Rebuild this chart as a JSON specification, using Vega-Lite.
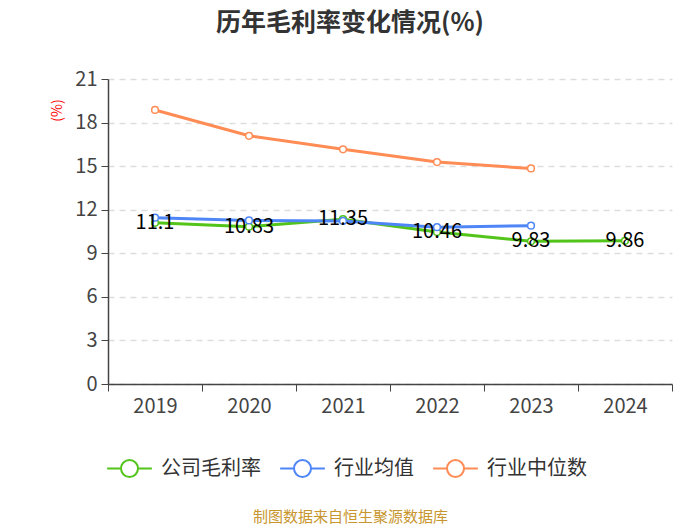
{
  "$schema": "https://vega.github.io/schema/vega-lite/v6.json",
  "width": 564,
  "height": 305,
  "autosize": {"type": "none"},
  "padding": {"left": 108, "top": 79, "right": 28, "bottom": 141},
  "background": "white",
  "title": {
    "text": "历年毛利率变化情况(%)",
    "fontSize": 25,
    "fontWeight": "bold",
    "color": "#333333",
    "font": "Noto Sans CJK SC",
    "anchor": "middle",
    "dx": -40,
    "offset": 33
  },
  "data": {
    "values": [
      {"year": "2019", "series": "公司毛利率", "value": 11.1},
      {"year": "2020", "series": "公司毛利率", "value": 10.83},
      {"year": "2021", "series": "公司毛利率", "value": 11.35},
      {"year": "2022", "series": "公司毛利率", "value": 10.46},
      {"year": "2023", "series": "公司毛利率", "value": 9.83},
      {"year": "2024", "series": "公司毛利率", "value": 9.86},
      {"year": "2019", "series": "行业均值", "value": 11.45},
      {"year": "2020", "series": "行业均值", "value": 11.26},
      {"year": "2021", "series": "行业均值", "value": 11.23},
      {"year": "2022", "series": "行业均值", "value": 10.8},
      {"year": "2023", "series": "行业均值", "value": 10.9},
      {"year": "2019", "series": "行业中位数", "value": 18.87},
      {"year": "2020", "series": "行业中位数", "value": 17.09},
      {"year": "2021", "series": "行业中位数", "value": 16.16},
      {"year": "2022", "series": "行业中位数", "value": 15.28},
      {"year": "2023", "series": "行业中位数", "value": 14.84}
    ]
  },
  "encoding": {
    "x": {
      "field": "year",
      "type": "ordinal",
      "scale": {"type": "band", "paddingInner": 0, "paddingOuter": 0},
      "axis": {
        "title": "制图数据来自恒生聚源数据库",
        "titleColor": "#C8962E",
        "titleFontSize": 15,
        "titleFontWeight": "normal",
        "titleFont": "Noto Sans CJK SC",
        "titleX": 242,
        "titleY": 132,
        "titleAlign": "center",
        "titleBaseline": "middle",
        "labelAngle": 0,
        "labelFontSize": 20,
        "labelColor": "#444444",
        "labelPadding": 5,
        "tickBand": "extent",
        "tickSize": 7,
        "tickColor": "#444444",
        "domainColor": "#444444",
        "domainWidth": 1.5,
        "grid": false
      }
    },
    "y": {
      "field": "value",
      "type": "quantitative",
      "scale": {"domain": [0, 21]},
      "axis": {
        "values": [0, 3, 6, 9, 12, 15, 18, 21],
        "title": "(%)",
        "titleColor": "#FF0000",
        "titleFontSize": 14,
        "titleFontWeight": "normal",
        "titleAngle": -90,
        "titleX": -51,
        "titleY": 31,
        "titleAlign": "center",
        "titleBaseline": "middle",
        "labelFontSize": 20,
        "labelColor": "#444444",
        "labelPadding": 4,
        "tickSize": 7,
        "tickColor": "#444444",
        "domainColor": "#444444",
        "domainWidth": 1.5,
        "gridColor": "#DDDDDD",
        "gridWidth": 1.5,
        "gridDash": [6, 5]
      }
    }
  },
  "layer": [
    {
      "mark": {
        "type": "line",
        "strokeWidth": 3,
        "point": {"filled": false, "fill": "white", "size": 45, "strokeWidth": 1.5}
      },
      "encoding": {
        "color": {
          "field": "series",
          "type": "nominal",
          "scale": {
            "domain": ["公司毛利率", "行业均值", "行业中位数"],
            "range": ["#52C41A", "#4F86F7", "#FF8C55"]
          },
          "legend": {
            "title": null,
            "orient": "none",
            "direction": "horizontal",
            "legendX": -2,
            "legendY": 366,
            "symbolType": "M-1,0L-0.38,0M0.38,0A0.38,0.38 0 1,1 -0.38,0A0.38,0.38 0 1,1 0.38,0M0.38,0L1,0",
            "symbolSize": 2000,
            "symbolStrokeWidth": 2,
            "symbolFillColor": "white",
            "labelFontSize": 20,
            "labelColor": "#333333",
            "labelFont": "Noto Sans CJK SC",
            "labelOffset": 8,
            "columnPadding": 15
          }
        }
      }
    },
    {
      "transform": [{"filter": "datum.series === '公司毛利率'"}],
      "mark": {"type": "text", "fontSize": 20, "color": "#000000", "baseline": "middle", "dy": 0},
      "encoding": {"text": {"field": "value", "type": "quantitative"}}
    }
  ],
  "config": {
    "font": "Noto Sans CJK SC",
    "view": {"stroke": null}
  }
}
